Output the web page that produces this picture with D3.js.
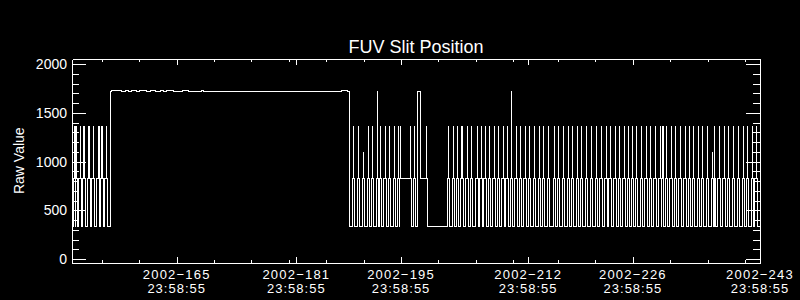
<!DOCTYPE html>
<html>
<head>
<meta charset="utf-8">
<script src="https://cdn.jsdelivr.net/npm/d3@7"></script>
<style>
  body { margin: 0; background: #000; }
  svg { display: block; }
</style>
</head>
<body>
<div id="chart"></div>
<script>

// raw slit levels: low, mid, high, top
var slitLevels = [330, 825, 1360, 1722];
var partialLevel = 1090;
var bumpLevel = 1733;

// time of day used on the axis, 23:58:55 as a fraction of a day
var dayTime = 86335 / 86400;

// day-of-year where the slit steps up to the high level
var leftSpikeDays = [152.33, 152.53, 153.07, 153.60, 154.27, 154.81, 155.48, 155.68, 156.01, 156.55];
var midSpikeDays = [189.62, 190.29, 191.62, 192.21, 193.28, 193.86, 194.43, 195.09, 195.64, 195.96,
  197.20, 197.76, 199.43];
var rightSpikeDays = [202.32, 202.99, 203.58, 204.15, 204.82, 205.45, 206.16, 206.70, 207.23, 207.81,
  208.43, 209.01, 209.64, 210.17, 211.38, 211.98, 212.58, 213.16, 213.82, 214.49,
  215.03, 215.70, 216.50, 217.03, 217.70, 218.37, 218.96, 219.57, 220.16, 220.83,
  221.50, 222.17, 222.74, 223.41, 223.95, 224.62, 225.19, 225.82, 226.39, 226.98,
  227.52, 228.19, 228.76, 229.39, 229.97, 230.63, 231.00, 231.53, 232.10, 232.73,
  233.31, 233.98, 234.55, 235.09, 235.76, 236.34, 236.99, 237.92, 238.52, 239.19,
  239.77, 240.44, 241.10, 241.77, 242.36, 242.98, 243.47];
// spikes going all the way to the top level, and the short ones
var topSpikeDays = [192.85, 210.80];
var partialSpikeDays = [190.96, 237.68];

// long flat stretches: start day, end day, level, level after
var spanStart = [157.12, 196.00, 198.18, 199.50];
var spanEnd = [189.08, 197.10, 198.63, 202.15];
var spanLevel = [1722, 825, 1722, 330];
var spanAfter = [330, 825, 825, 825];

// little bumps on the top of the long plateau: start and end day
var bumpStart = [157.30, 159.09, 159.98, 161.09, 162.43, 163.77, 164.70, 166.84, 169.38, 188.07];
var bumpEnd = [158.60, 159.50, 160.60, 161.90, 163.20, 164.30, 165.60, 167.60, 169.60, 188.90];

// axis ticks
var xMajorDays = [165, 181, 195, 212, 226, 243];
var xMinorDays = [156, 161, 171, 176, 181, 186, 191, 201, 206, 211, 217, 222, 232, 237, 242];
var yMajorTicks = [0, 500, 1000, 1500, 2000];

var startDay = 151 + dayTime;
var endDay = 243 + dayTime;

// build the step series
var points = [[startDay, slitLevels[0]]];
function addCycle(t, peak) {
  points.push([t - 0.15, slitLevels[1]]);
  points.push([t, peak]);
  points.push([t + 0.03, slitLevels[1]]);
  points.push([t + 0.15, slitLevels[0]]);
}
leftSpikeDays.concat(midSpikeDays, rightSpikeDays).forEach(function(t) { addCycle(t, slitLevels[2]); });
topSpikeDays.forEach(function(t) { addCycle(t, slitLevels[3]); });
partialSpikeDays.forEach(function(t) { addCycle(t, partialLevel); });

for (var i = 0; i < spanStart.length; i++) {
  var a = spanStart[i], b = spanEnd[i];
  points = points.filter(function(p) { return p[0] < a || p[0] > b; });
  points.push([a, spanLevel[i]]);
  points.push([b, spanAfter[i]]);
}
for (var j = 0; j < bumpStart.length; j++) {
  points.push([bumpStart[j], bumpLevel]);
  points.push([bumpEnd[j], slitLevels[3]]);
}
points.push([endDay, slitLevels[0]]);
points.sort(function(p, q) { return p[0] - q[0]; });

var svg = d3.select("#chart")
  .append("svg")
  .attr("width", 800)
  .attr("height", 300)
  .style("background", "#000")
  .style("color", "#fff");

var x = d3.scaleLinear().domain([startDay, endDay]).range([72, 760]);
var y = d3.scaleLinear().domain([-41, 2054]).range([263, 59]);

var font = "'Liberation Sans', Arial, sans-serif";

// the data line
var line = d3.line()
  .x(function(d) { return x(d[0]); })
  .y(function(d) { return y(d[1]); })
  .curve(d3.curveStepAfter);

svg.append("path")
  .datum(points)
  .attr("d", line)
  .attr("fill", "none")
  .attr("stroke", "#fff")
  .attr("stroke-width", 1)
  .attr("shape-rendering", "crispEdges");

// axes, ticks pointing inward on all four sides
var yMinor = d3.range(0, 2001, 100);
function drawAxis(axis, tx, ty) {
  var g = svg.append("g")
    .attr("transform", "translate(" + tx + "," + ty + ")")
    .attr("shape-rendering", "crispEdges")
    .call(axis);
  g.selectAll("text").remove();
  return g;
}
drawAxis(d3.axisLeft(y).tickValues(yMinor).tickSize(-7).tickSizeOuter(0), 72, 0);
drawAxis(d3.axisLeft(y).tickValues(yMajorTicks).tickSize(-14).tickSizeOuter(0), 72, 0);
drawAxis(d3.axisRight(y).tickValues(yMinor).tickSize(-7).tickSizeOuter(0), 760, 0);
drawAxis(d3.axisRight(y).tickValues(yMajorTicks).tickSize(-14).tickSizeOuter(0), 760, 0);

var xMajor = xMajorDays.map(function(d) { return d + dayTime; });
drawAxis(d3.axisBottom(x).tickValues(xMinorDays).tickSize(-3).tickSizeOuter(0), 0, 263);
drawAxis(d3.axisBottom(x).tickValues(xMajor).tickSize(-6).tickSizeOuter(0), 0, 263);
drawAxis(d3.axisTop(x).tickValues(xMinorDays).tickSize(-3).tickSizeOuter(0), 0, 59);
drawAxis(d3.axisTop(x).tickValues(xMajor).tickSize(-6).tickSizeOuter(0), 0, 59);

// y labels
svg.selectAll(".ylab")
  .data(yMajorTicks)
  .enter().append("text")
  .attr("class", "ylab")
  .attr("x", 67)
  .attr("y", function(d) { return y(d) + 5; })
  .attr("text-anchor", "end")
  .attr("fill", "#fff")
  .style("font-family", font)
  .style("font-size", "14px")
  .text(function(d) { return d; });

// x labels, one text per line
var xlabDate = svg.selectAll(".xlab1")
  .data(xMajorDays)
  .enter().append("text")
  .attr("class", "xlab1")
  .attr("x", function(d) { return x(d + dayTime); })
  .attr("y", 278.5)
  .attr("text-anchor", "middle")
  .attr("fill", "#fff")
  .style("font-family", font)
  .style("font-size", "13px")
  .style("letter-spacing", "1.2px")
  .text(function(d) { return "2002\u2212" + d; });

var xlabTime = svg.selectAll(".xlab2")
  .data(xMajorDays)
  .enter().append("text")
  .attr("class", "xlab2")
  .attr("x", function(d) { return x(d + dayTime); })
  .attr("y", 292.7)
  .attr("text-anchor", "middle")
  .attr("fill", "#fff")
  .style("font-family", font)
  .style("font-size", "13px")
  .style("letter-spacing", "1px")
  .text("23:58:55");

// title and y axis name
svg.append("text")
  .attr("x", 416)
  .attr("y", 53)
  .attr("text-anchor", "middle")
  .attr("fill", "#fff")
  .style("font-family", font)
  .style("font-size", "18px")
  .text("FUV Slit Position");

svg.append("text")
  .attr("transform", "translate(23.5,160.7) rotate(-90)")
  .attr("text-anchor", "middle")
  .attr("fill", "#fff")
  .style("font-family", font)
  .style("font-size", "14px")
  .text("Raw Value");

</script>
</body>
</html>
